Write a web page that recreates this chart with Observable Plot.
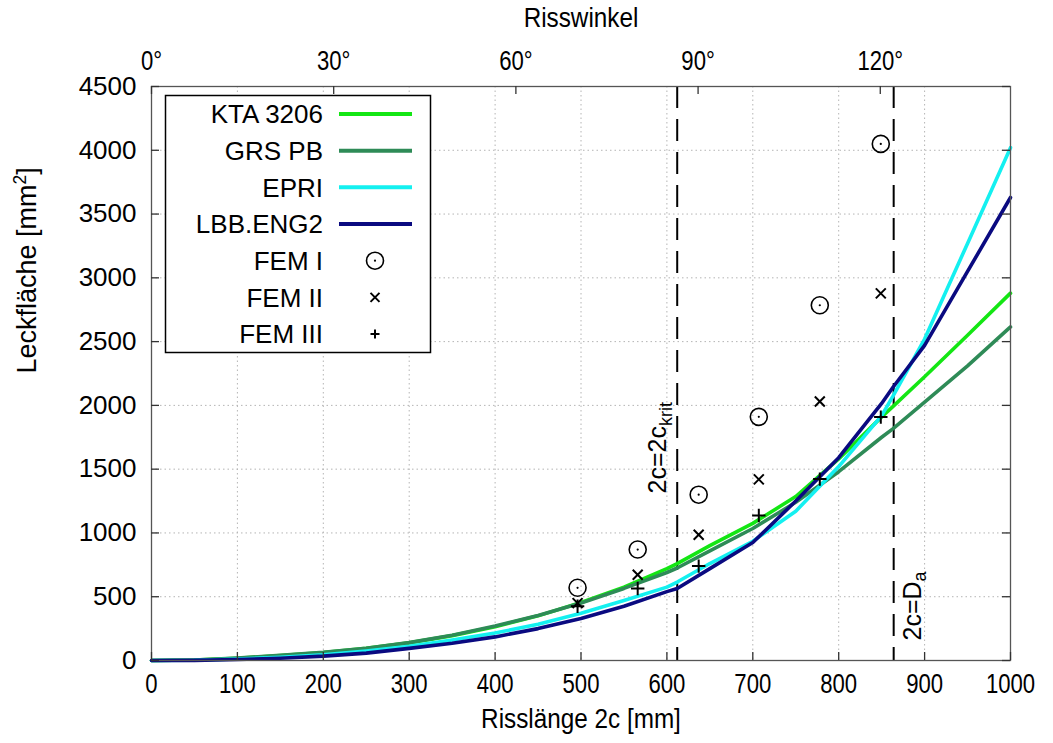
<!DOCTYPE html>
<html><head><meta charset="utf-8">
<script src="https://cdn.jsdelivr.net/npm/d3@7"></script>
<script src="https://cdn.jsdelivr.net/npm/@observablehq/plot@0.6"></script>
<style>body{margin:0;background:#fff} svg{display:block}</style>
</head><body><div id="chart"></div>
<script>
// ---- data ----
const crackLength = [0, 50, 100, 150, 200, 250, 300, 350, 400, 450, 500, 550, 600, 612, 650, 700, 750, 800, 850, 863, 900, 950, 1000];
const kta3206  = [0, 4, 18, 38, 62, 95, 138, 195, 265, 350, 455, 575, 720, 760, 900, 1075, 1285, 1580, 1910, 1990, 2225, 2550, 2880];
const grsPB    = [0, 4, 20, 40, 64, 96, 140, 198, 270, 352, 450, 565, 690, 725, 860, 1035, 1240, 1480, 1750, 1816, 2025, 2310, 2615];
const epri     = [0, 2, 12, 26, 45, 75, 112, 160, 215, 285, 370, 470, 575, 615, 760, 935, 1170, 1520, 1920, 2070, 2520, 3270, 4020];
const lbbEng2  = [0, 1, 8, 18, 34, 58, 95, 135, 185, 250, 330, 425, 540, 565, 720, 925, 1250, 1590, 2015, 2140, 2470, 3050, 3630];

const femCrack = [496, 566, 637, 707, 778, 849];
const femI     = [570, 870, 1300, 1910, 2785, 4050];
const femII    = [450, 672, 986, 1420, 2030, 2878];
const femIII   = [425, 565, 740, 1137, 1422, 1908];

const critLength = 612;     // 2c = 2c_krit
const outerDiameter = 864;  // 2c = D_a

const xTicks = [0, 100, 200, 300, 400, 500, 600, 700, 800, 900, 1000];
const yTicks = [0, 500, 1000, 1500, 2000, 2500, 3000, 3500, 4000, 4500];
const angleTicks = [0, 30, 60, 90, 120];
const mmPerDegree = 7.07;

const seriesNames  = ["KTA 3206", "GRS PB", "EPRI", "LBB.ENG2"];
const seriesColors = ["#14e614", "#2e8b57", "#14f0f0", "#0a0a80"];
const femNames = ["FEM I", "FEM II", "FEM III"];

// ---- derived tables ----
const curves = [kta3206, grsPB, epri, lbbEng2].flatMap((vals, i) =>
  vals.map((v, j) => ({series: seriesNames[i], x: crackLength[j], y: v})));
const femRows = (vals) => vals.map((v, j) => ({x: femCrack[j], y: v}));

const W = 1053, H = 743, mL = 151, mR = 43, mT = 86, mB = 83;
const frameW = W - mL - mR, frameH = H - mT - mB;
const sans = "'Liberation Sans', Arial, sans-serif";

const plot = Plot.plot({
  width: W, height: H,
  marginLeft: mL, marginRight: mR, marginTop: mT, marginBottom: mB,
  style: {fontFamily: sans, background: "white", color: "black"},
  x: {domain: [0, 1000], axis: null},
  y: {domain: [0, 4500], axis: null},
  color: {domain: seriesNames, range: seriesColors},
  marks: [
    // grid
    Plot.ruleX(xTicks.slice(1, -1), {stroke: "#b4b4b4", strokeWidth: 1, strokeDasharray: "1.5,3"}),
    Plot.ruleY(yTicks.slice(1, -1), {stroke: "#b4b4b4", strokeWidth: 1, strokeDasharray: "1.5,3"}),
    // dashed reference lines
    Plot.ruleX([critLength, outerDiameter], {x: d => d, stroke: "black", strokeWidth: 2, strokeDasharray: "22,11"}),
    // curves
    Plot.line(curves, {x: "x", y: "y", z: "series", stroke: "series", strokeWidth: 3.6, curve: "linear"}),
    // FEM points
    Plot.dot(femRows(femI), {x: "x", y: "y", r: 8.5, stroke: "black", strokeWidth: 1.6, fill: "none"}),
    Plot.dot(femRows(femI), {x: "x", y: "y", r: 1.1, fill: "black", stroke: "none"}),
    Plot.dot(femRows(femII), {x: "x", y: "y", symbol: "times", r: 4.6, stroke: "black", strokeWidth: 2}),
    Plot.dot(femRows(femIII), {x: "x", y: "y", symbol: "plus", r: 4.4, stroke: "black", strokeWidth: 2}),
    // annotations
    Plot.text([critLength], {x: d => d, frameAnchor: "bottom", lineAnchor: "middle", dy: -167, dx: -19, rotate: -90,
      text: () => "2c=2ckrit", textAnchor: "start", fontSize: 25, fontFamily: sans, className: "ann-krit"}),
    Plot.text([outerDiameter], {x: d => d, frameAnchor: "bottom", lineAnchor: "middle", dy: -20, dx: 19, rotate: -90,
      text: () => "2c=Da", textAnchor: "start", fontSize: 25, fontFamily: sans, className: "ann-da"}),
    // frame
    Plot.frame({stroke: "#555", strokeWidth: 1.3}),
    // inward ticks
    Plot.tickX(xTicks, {x: d => d, insetTop: frameH - 8, stroke: "#333", strokeWidth: 1.3}),
    Plot.tickX(angleTicks, {x: d => d * mmPerDegree, insetBottom: frameH - 8, stroke: "#333", strokeWidth: 1.3}),
    Plot.tickY(yTicks, {y: d => d, insetRight: frameW - 8, stroke: "#333", strokeWidth: 1.3}),
    Plot.tickY(yTicks, {y: d => d, insetLeft: frameW - 8, stroke: "#333", strokeWidth: 1.3}),
    // axes labels
    Plot.axisX(xTicks, {anchor: "bottom", tickSize: 0, tickPadding: 13, fontSize: 27, label: null,
      tickFormat: d => String(d), className: "xticks"}),
    Plot.axisX(angleTicks.map(d => d * mmPerDegree), {anchor: "top", tickSize: 0, tickPadding: 17, fontSize: 27,
      tickFormat: v => Math.round(v / mmPerDegree) + "°", label: null, className: "topticks"}),
    Plot.axisY(yTicks, {anchor: "left", tickSize: 0, tickPadding: 15, fontSize: 26, label: null,
      tickFormat: d => String(d)}),
    Plot.text(["Risslänge 2c [mm]"], {frameAnchor: "bottom", lineAnchor: "middle", dy: 59, fontSize: 27, className: "xtitle"}),
    Plot.text(["Risswinkel"], {frameAnchor: "top", lineAnchor: "middle", dy: -68, fontSize: 27, className: "toptitle"}),
    Plot.text(["Leckfläche [mm2]"], {frameAnchor: "left", lineAnchor: "middle", dx: -124, rotate: -90, fontSize: 27, className: "ylab"})
  ]
});
document.getElementById("chart").appendChild(plot);

// condensed look for x-axis texts
function condense(sel, sx) {
  d3.select(plot).selectAll(sel).each(function() {
    const t = this.getAttribute("transform") || "";
    this.setAttribute("transform", t + ` scale(${sx},1)`);
  });
}
condense(".xticks text", 0.82);
condense(".topticks text", 0.82);
condense(".xtitle text", 0.9);
condense(".toptitle text", 0.9);

// subscripts / superscripts
function rich(sel, parts) {
  d3.select(plot).selectAll(sel).each(function() {
    const t = d3.select(this);
    t.text(null);
    parts.forEach(([s, kind]) => {
      const ts = t.append("tspan").text(s);
      if (kind === "sub") ts.attr("font-size", "0.72em").attr("dy", "0.3em");
      if (kind === "sup") ts.attr("font-size", "0.65em").attr("dy", "-0.6em");
      if (kind === "back-sup") ts.attr("dy", "0.4em");
    });
  });
}
rich(".ann-krit text", [["2c=2c"], ["krit", "sub"]]);
rich(".ann-da text", [["2c=D"], ["a", "sub"]]);
rich(".ylab text", [["Leckfläche [mm"], ["2", "sup"], ["]", "back-sup"]]);

// legend
const svg = d3.select(plot);
const lg = svg.append("g").attr("font-family", sans).attr("font-size", 26);
lg.append("rect").attr("x", 165.5).attr("y", 95.5).attr("width", 265).attr("height", 257)
  .attr("fill", "white").attr("stroke", "black").attr("stroke-width", 1.5);
const rowY = i => 114 + i * 36.67;
seriesNames.forEach((name, i) => {
  lg.append("text").attr("x", 323).attr("y", rowY(i)).attr("text-anchor", "end").attr("dy", "0.36em").text(name);
  lg.append("line").attr("x1", 339).attr("x2", 412).attr("y1", rowY(i)).attr("y2", rowY(i))
    .attr("stroke", seriesColors[i]).attr("stroke-width", 4);
});
femNames.forEach((name, k) => {
  const i = k + seriesNames.length, y = rowY(i);
  lg.append("text").attr("x", 323).attr("y", y).attr("text-anchor", "end").attr("dy", "0.36em").text(name);
  if (k === 0) {
    lg.append("circle").attr("cx", 375).attr("cy", y).attr("r", 8.5).attr("fill", "none").attr("stroke", "black").attr("stroke-width", 1.6);
    lg.append("circle").attr("cx", 375).attr("cy", y).attr("r", 1.1).attr("fill", "black");
  } else {
    const s = 4.5;
    const d = k === 1
      ? `M${-s},${-s}L${s},${s}M${-s},${s}L${s},${-s}`
      : `M${-s},0L${s},0M0,${-s}L0,${s}`;
    lg.append("path").attr("transform", `translate(375,${y})`).attr("d", d)
      .attr("fill", "none").attr("stroke", "black").attr("stroke-width", 2);
  }
});
</script>
</body></html>
